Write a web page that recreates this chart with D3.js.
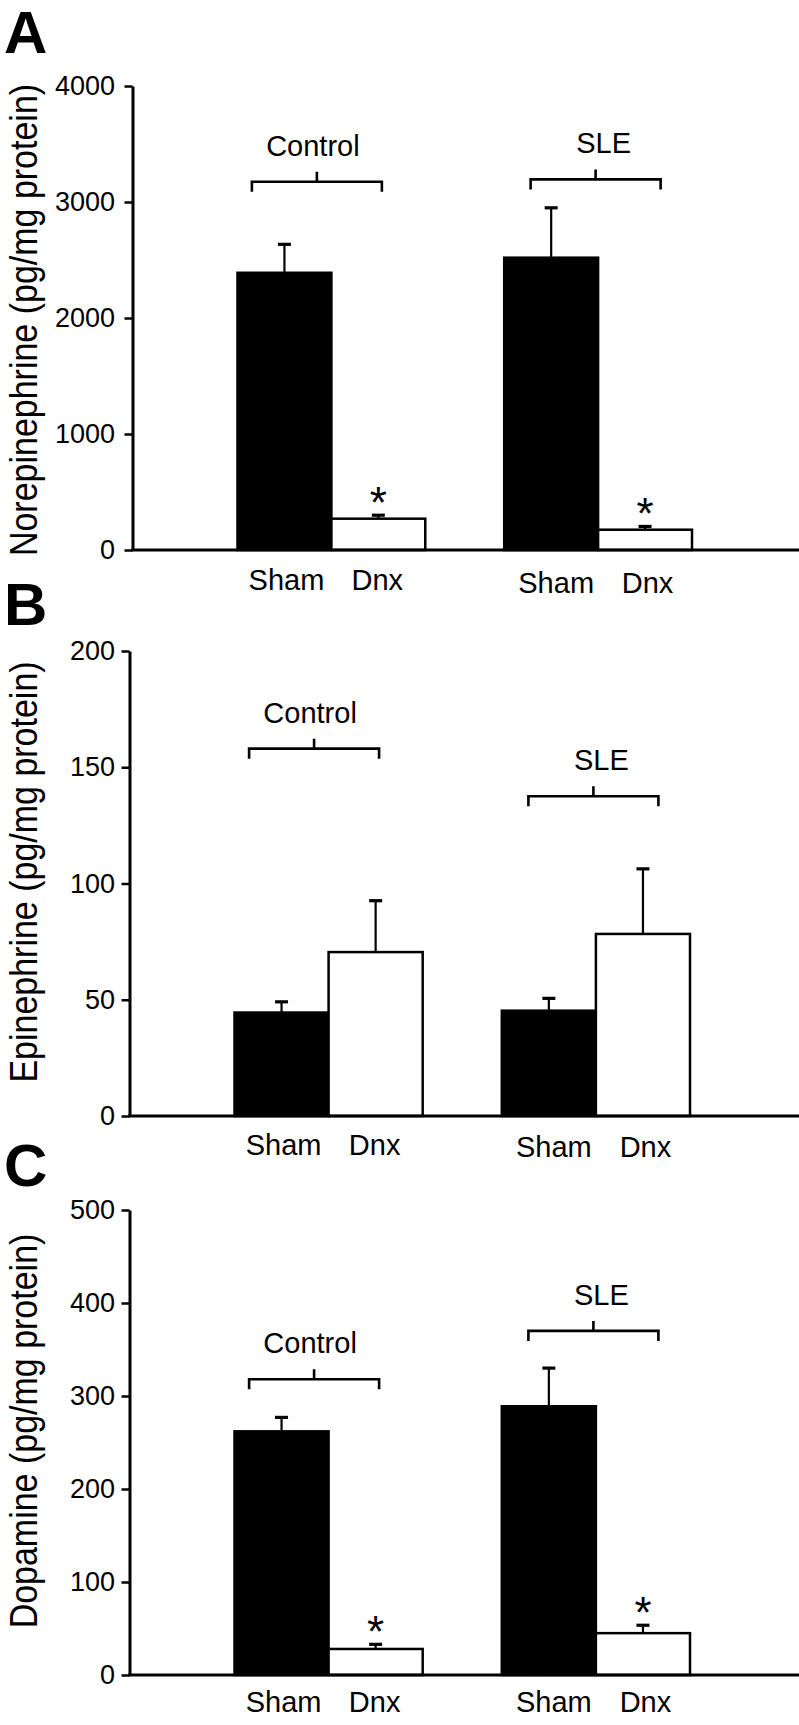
<!DOCTYPE html>
<html><head><meta charset="utf-8">
<script src="https://cdn.jsdelivr.net/npm/d3@7"></script>
<style>
body{margin:0;background:#fff}
text{font-family:"Liberation Sans",Arial,Helvetica,sans-serif;fill:#000}
</style>
</head><body>
<svg id="c" width="799" height="1725"></svg>
<script>
// ---------- data ----------
const groups = ["Control", "SLE"];
const treatments = ["Sham", "Dnx"];

const neMean = [2390, 270, 2520, 175];
const neSem  = [245, 30, 430, 28];
const neSig  = [false, true, false, true];
const neTicks = [0, 1000, 2000, 3000, 4000];
const neBracket = [3175, 3195];

const epiMean = [44.5, 70.5, 45.3, 78.3];
const epiSem  = [4.6, 22.1, 5.3, 28];
const epiSig  = [false, false, false, false];
const epiTicks = [0, 50, 100, 150, 200];
const epiBracket = [158, 137.5];

const daMean = [262, 28, 289, 45];
const daSem  = [15, 5, 41, 8.5];
const daSig  = [false, true, false, true];
const daTicks = [0, 100, 200, 300, 400, 500];
const daBracket = [318, 370];

// ---------- layout ----------
const panels = [
  {letter:"A", letterY:53, label:"Norepinephrine (pg/mg protein)", labelCY:320,
   mean:neMean, sem:neSem, sig:neSig, ticks:neTicks, bracket:neBracket,
   yTop:86, yBot:550, axisX:132.5, x0:237.5, x1:692, lab2:[40,43]},
  {letter:"B", letterY:625, label:"Epinephrine (pg/mg protein)", labelCY:872,
   mean:epiMean, sem:epiSem, sig:epiSig, ticks:epiTicks, bracket:epiBracket,
   yTop:651, yBot:1116, axisX:129.5, x0:234.5, x1:690, lab2:[39,41]},
  {letter:"C", letterY:1186, label:"Dopamine (pg/mg protein)", labelCY:1431,
   mean:daMean, sem:daSem, sig:daSig, ticks:daTicks, bracket:daBracket,
   yTop:1210, yBot:1675, axisX:129.5, x0:234.5, x1:690, lab2:[37,37]}
];

const svg = d3.select("#c");
const W = 799;

panels.forEach(p => {
  const g = svg.append("g");
  const y = d3.scaleLinear().domain([0, d3.max(p.ticks)]).range([p.yBot, p.yTop]);
  const gx = d3.scaleBand().domain(groups).range([p.x0, p.x1]).paddingInner(0.296).paddingOuter(0);
  const sx = d3.scaleBand().domain(treatments).range([0, gx.bandwidth()]).padding(0);

  const rows = [];
  groups.forEach((gr, gi) => treatments.forEach((t, ti) => {
    const i = gi * treatments.length + ti;
    rows.push({group:gr, treat:t, gi, ti, mean:p.mean[i], sem:p.sem[i], sig:p.sig[i]});
  }));
  const cx = d => gx(d.group) + sx(d.treat) + sx.bandwidth() / 2;

  // error bars (stem + cap)
  g.selectAll(".stem").data(rows).join("line")
    .attr("x1", cx).attr("x2", cx)
    .attr("y1", d => y(d.mean)).attr("y2", d => y(d.mean + d.sem))
    .attr("stroke", "#000").attr("stroke-width", 2.2);
  g.selectAll(".cap").data(rows).join("line")
    .attr("x1", d => cx(d) - 6.5).attr("x2", d => cx(d) + 6.5)
    .attr("y1", d => y(d.mean + d.sem)).attr("y2", d => y(d.mean + d.sem))
    .attr("stroke", "#000").attr("stroke-width", 3.2);

  // bars
  g.selectAll(".bar").data(rows).join("rect")
    .attr("x", d => gx(d.group) + sx(d.treat))
    .attr("width", sx.bandwidth())
    .attr("y", d => y(d.mean))
    .attr("height", d => p.yBot - y(d.mean))
    .attr("fill", d => d.treat === "Sham" ? "#000" : "#fff")
    .attr("stroke", "#000").attr("stroke-width", 2.5);

  // significance stars
  g.selectAll(".star").data(rows.filter(d => d.sig)).join("text")
    .attr("x", cx).attr("y", d => y(d.mean + d.sem) + 3)
    .attr("text-anchor", "middle").attr("font-size", 44)
    .text("*");

  // y axis
  const ax = g.append("g").attr("transform", `translate(${p.axisX},0)`)
    .call(d3.axisLeft(y).tickValues(p.ticks).tickSize(8)
      .tickPadding(p.axisX - 8 - 115).tickSizeOuter(0).tickFormat(d3.format("d")));
  ax.select(".domain").attr("stroke", "#000").attr("stroke-width", 3);
  ax.selectAll(".tick line").attr("stroke", "#000").attr("stroke-width", 2.5);
  ax.selectAll(".tick text").attr("font-size", 27)
    .attr("font-family", '"Liberation Sans",Arial,sans-serif').attr("fill", "#000");

  // x baseline
  g.append("line").attr("x1", p.axisX - 1.5).attr("x2", W)
    .attr("y1", p.yBot).attr("y2", p.yBot)
    .attr("stroke", "#000").attr("stroke-width", 3);

  // category labels
  g.selectAll(".cat").data(rows).join("text")
    .attr("x", d => cx(d) + (d.gi === 0 ? (d.ti === 0 ? 2 : -1) : (d.ti === 0 ? 5 : 2.5)))
    .attr("y", d => p.yBot + p.lab2[d.gi])
    .attr("text-anchor", "middle").attr("font-size", 29)
    .text(d => d.treat);

  // group brackets
  const bOff = [-14.5, -2.5], tOff = [-4, 8], half = 65;
  groups.forEach((gr, gi) => {
    const bc = gx(gr) + gx.bandwidth() / 2 + bOff[gi];
    const by = y(p.bracket[gi]);
    g.append("path")
      .attr("d", `M${bc - half},${by + 10}V${by}H${bc + half}V${by + 10}M${bc},${by}V${by - 10}`)
      .attr("fill", "none").attr("stroke", "#000").attr("stroke-width", 2.6);
    g.append("text").attr("x", bc + tOff[gi]).attr("y", by - 26)
      .attr("text-anchor", "middle").attr("font-size", 29).text(gr);
  });

  // y-axis title
  g.append("text")
    .attr("transform", `translate(37,${p.labelCY}) rotate(-90) scale(1,1.14)`)
    .attr("text-anchor", "middle").attr("font-size", 34)
    .text(p.label);

  // panel letter
  svg.append("text").attr("x", 4).attr("y", p.letterY)
    .attr("font-size", 60).attr("font-weight", "bold").text(p.letter);
});
</script>
</body></html>
